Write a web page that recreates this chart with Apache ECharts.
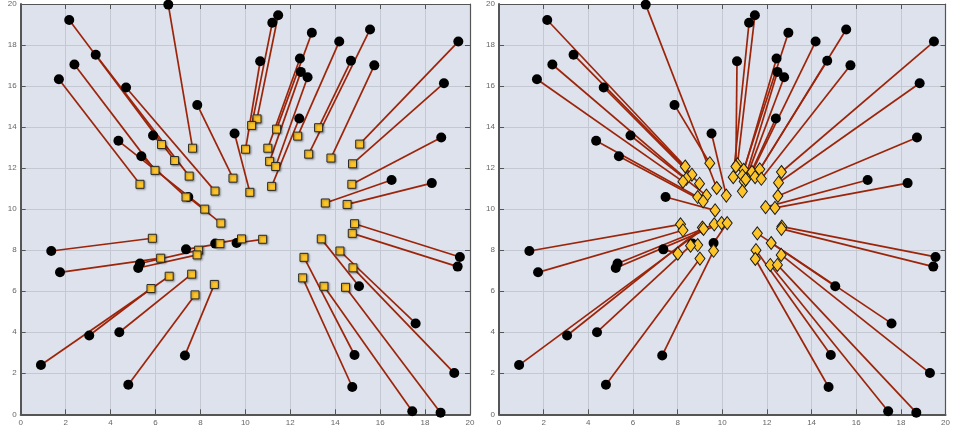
<!DOCTYPE html>
<html>
<head>
<meta charset="utf-8">
<script src="https://cdn.jsdelivr.net/npm/echarts@6/dist/echarts.min.js"></script>
<style>
html,body{margin:0;padding:0;background:#fff;}
#chart{width:953px;height:430px;}
</style>
</head>
<body>
<div id="chart"></div>
<script>
// Original points (black circles), shared by both panels
var circleX = [2.16,3.34,2.39,1.70,4.69,6.57,7.86,9.52,4.35,5.89,5.37,7.46,
  11.46,11.2,10.66,12.96,12.43,12.47,12.77,12.4,14.18,14.7,15.55,15.74,19.48,18.84,18.72,16.51,18.3,
  1.36,1.75,5.31,5.23,7.36,8.66,9.61,3.05,4.39,0.9,4.79,7.31,
  19.55,19.45,15.06,17.58,19.3,14.86,14.76,17.43,18.69];
var circleY = [19.22,17.53,17.05,16.33,15.93,19.97,15.08,13.69,13.33,13.59,12.58,10.59,
  19.45,19.09,17.21,18.6,17.34,16.69,16.43,14.42,18.17,17.23,18.76,17.01,18.17,16.14,13.49,11.42,11.27,
  7.96,6.92,7.35,7.13,8.04,8.32,8.35,3.84,4.0,2.4,1.44,2.87,
  7.67,7.2,6.24,4.43,2.01,2.89,1.33,0.15,0.08];
// Left panel: moved points (yellow squares)
var squareX = [6.85,7.5,5.98,5.31,8.65,7.65,9.45,10.2,8.19,6.27,7.36,8.91,
  10.52,10.28,10.01,11.39,11.0,11.08,11.35,11.17,12.33,13.26,12.82,13.81,15.09,14.77,14.74,13.56,14.53,
  5.86,6.23,7.92,7.85,8.87,9.83,10.77,5.8,7.61,6.61,7.76,8.62,
  14.86,14.76,13.38,14.21,14.79,12.61,12.55,13.5,14.46];
var squareY = [12.37,11.61,11.89,11.21,10.88,12.97,11.51,10.82,10.0,13.15,10.59,9.32,
  14.4,14.08,12.92,13.9,12.97,12.33,12.08,11.11,13.56,13.97,12.68,12.49,13.17,12.21,11.21,10.3,10.23,
  8.58,7.61,8.0,7.77,8.32,8.55,8.53,6.13,6.83,6.73,5.82,6.33,
  9.29,8.82,8.55,7.96,7.14,7.65,6.65,6.24,6.19];
// Right panel: moved points (yellow diamonds)
var diamondX = [8.34,8.64,8.39,8.24,8.98,9.75,9.44,10.18,8.9,9.29,9.14,9.68,
  10.68,10.49,10.61,10.96,10.9,10.98,11.05,10.9,11.33,11.47,11.68,11.75,12.65,12.52,12.49,11.94,12.36,
  8.13,8.24,9.64,9.97,8.01,8.9,10.22,9.11,8.58,9.16,9.0,9.61,
  12.67,12.65,12.19,11.57,12.64,11.51,11.48,12.15,12.47];
var diamondY = [12.08,11.68,11.48,11.34,11.24,11.03,12.24,10.66,10.59,10.66,10.38,9.94,
  12.18,11.56,12.08,11.92,11.63,11.35,11.45,10.87,11.81,11.56,11.94,11.48,11.81,11.29,10.64,10.1,10.06,
  9.26,8.97,9.26,9.32,7.83,8.25,9.32,9.1,8.22,9.04,7.59,7.97,
  9.15,9.04,8.35,8.82,7.77,8.0,7.57,7.28,7.28];
var axisMin = 0, axisMax = 20, tickStep = 2;

function pts(xs, ys){ return xs.map(function(x,i){ return [x, ys[i]]; }); }
function segs(x1, y1, x2, y2){
  return x1.map(function(x,i){ return {coords: [[x, y1[i]], [x2[i], y2[i]]]}; });
}

var GRID_BG = '#dde2ec', SPLIT = '#c3c8d2', AXC = '#555';
var LINE_C = '#9c2409';

function mkX(gi, pos){
  var main = pos === 'bottom';
  return {
    type:'value', gridIndex:gi, position:pos, min:axisMin, max:axisMax, interval:tickStep,
    axisLine:{show:true, onZero:false, lineStyle:{color:AXC, width: main ? 2 : 1.2}},
    axisTick:{show:true, inside:true, length:5, lineStyle:{color:AXC, width:1}},
    axisLabel:{show:main, fontSize:8, color:'#666', margin:4, fontFamily:'Arial, Liberation Sans, sans-serif'},
    splitLine:{show:main, lineStyle:{color:SPLIT, width:1}}
  };
}
function mkY(gi, pos){
  var main = pos === 'left';
  return {
    type:'value', gridIndex:gi, position:pos, min:axisMin, max:axisMax, interval:tickStep,
    axisLine:{show:true, onZero:false, lineStyle:{color:AXC, width: main ? 2 : 1.2}},
    axisTick:{show:true, inside:true, length:5, lineStyle:{color:AXC, width:1}},
    axisLabel:{show:main, fontSize:8, color:'#666', margin:4, fontFamily:'Arial, Liberation Sans, sans-serif'},
    splitLine:{show:main, lineStyle:{color:SPLIT, width:1}}
  };
}

var circleStyle = {color:'#000', borderColor:'#000', borderWidth:0, opacity:1};
var squareStyle = {color:'#fdc42a', borderColor:'#2a2a2a', borderWidth:1, opacity:1,
  shadowColor:'rgba(0,0,0,0.35)', shadowBlur:2, shadowOffsetX:1, shadowOffsetY:1};
var diamondStyle = {color:'#fdc42a', borderColor:'#1a1a1a', borderWidth:1, opacity:1};

var option = {
  animation:false,
  backgroundColor:'#fff',
  grid:[
    {left:20.7, right:483, top:3.3, bottom:15.7, show:true, backgroundColor:GRID_BG, borderWidth:0},
    {left:499, right:4, top:3.3, bottom:15.7, show:true, backgroundColor:GRID_BG, borderWidth:0}
  ],
  xAxis:[mkX(0,'bottom'), mkX(0,'top'), mkX(1,'bottom'), mkX(1,'top')],
  yAxis:[mkY(0,'left'), mkY(0,'right'), mkY(1,'left'), mkY(1,'right')],
  series:[
    {type:'lines', coordinateSystem:'cartesian2d', xAxisIndex:0, yAxisIndex:0, silent:true,
     lineStyle:{color:LINE_C, width:1.7, opacity:1}, data:segs(circleX, circleY, squareX, squareY), z:2},
    {type:'scatter', xAxisIndex:0, yAxisIndex:0, symbol:'circle', symbolSize:10, clip:false,
     itemStyle:circleStyle, data:pts(circleX, circleY), z:3},
    {type:'scatter', xAxisIndex:0, yAxisIndex:0, symbol:'rect', symbolSize:8, clip:false,
     itemStyle:squareStyle, data:pts(squareX, squareY), z:4},
    {type:'lines', coordinateSystem:'cartesian2d', xAxisIndex:2, yAxisIndex:2, silent:true,
     lineStyle:{color:LINE_C, width:1.7, opacity:1}, data:segs(circleX, circleY, diamondX, diamondY), z:2},
    {type:'scatter', xAxisIndex:2, yAxisIndex:2, symbol:'circle', symbolSize:10, clip:false,
     itemStyle:circleStyle, data:pts(circleX, circleY), z:3},
    {type:'scatter', xAxisIndex:2, yAxisIndex:2, symbol:'diamond', symbolSize:[10,13], clip:false,
     itemStyle:diamondStyle, data:pts(diamondX, diamondY), z:4}
  ]
};
var chart = echarts.init(document.getElementById('chart'), null, {renderer:'canvas'});
chart.setOption(option);
</script>
</body>
</html>
